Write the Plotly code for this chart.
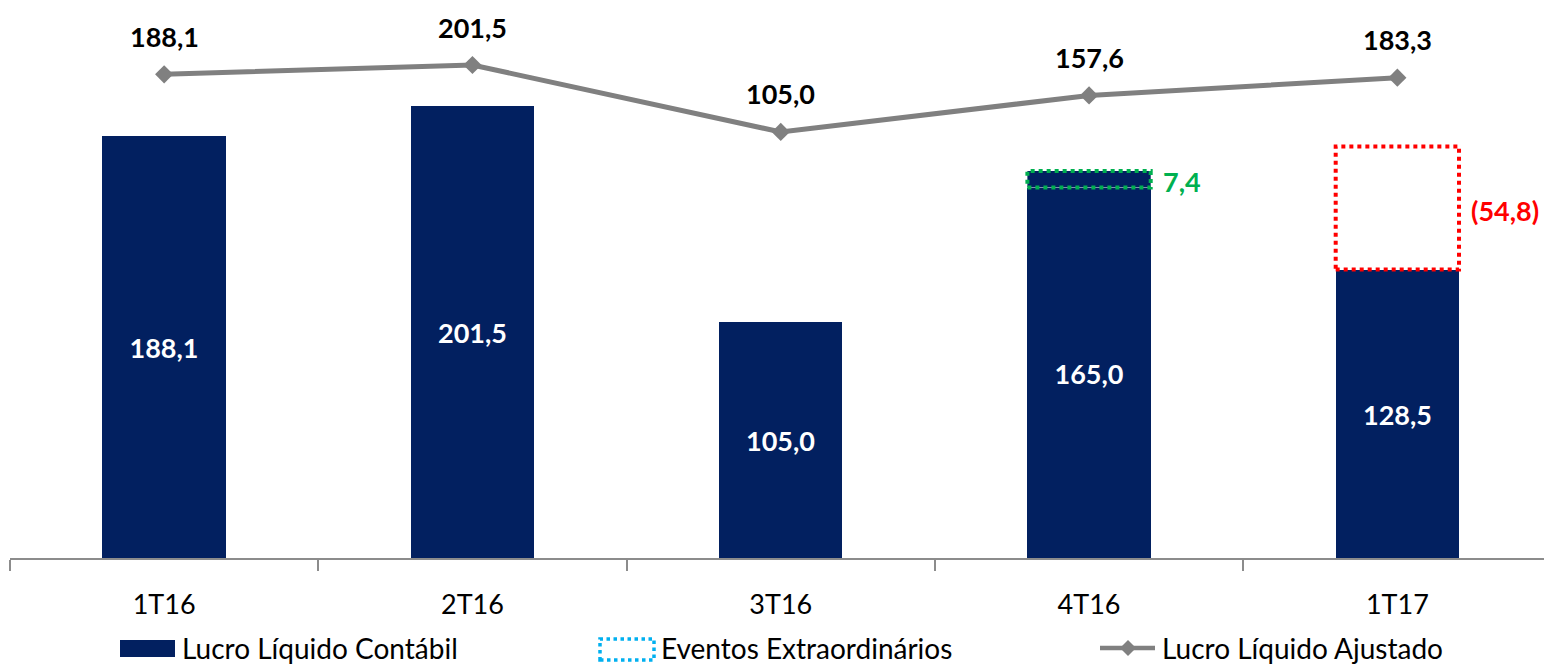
import plotly.graph_objects as go

# ---------------- data ----------------
categories = ["1T16", "2T16", "3T16", "4T16", "1T17"]
lucro_contabil = [188.1, 201.5, 105.0, 165.0, 128.5]
eventos_extra = [None, None, None, 7.4, -54.8]
lucro_ajustado = [188.1, 201.5, 105.0, 157.6, 183.3]
legend_names = ["Lucro Líquido Contábil", "Eventos Extraordinários", "Lucro Líquido Ajustado"]

# ---------------- style ----------------
W, H = 1544, 665
ML, MR, MT, MB = 10, 0, 0, 107
PW, PH = W - ML - MR, H - MT - MB
NAVY = "#022060"
GRAY = "#808080"
AXIS = "#8C8C8C"
GREEN = "#00B050"
RED = "#FF0000"
CYAN = "#00B0F0"
FONT = "Lato"
FS = 27
BAR_W = 0.4
CAT_PX = 308.3
BAR_SCALE = 2.245       # px per unit, primary axis
LINE_SCALE = 0.694      # px per unit, secondary axis
LINE_TOP_VAL = 201.5
LINE_TOP_PX = 65


def fmt(v):
    s = f"{abs(v):.1f}".replace(".", ",")
    return f"({s})" if v < 0 else s


x_idx = list(range(len(categories)))

fig = go.Figure()

fig.add_trace(go.Bar(
    x=x_idx, y=lucro_contabil, width=BAR_W,
    marker=dict(color=NAVY, line=dict(width=0)),
    text=[f"<b>{fmt(v)}</b>" for v in lucro_contabil],
    textposition="inside", insidetextanchor="middle", textangle=0,
    constraintext="none",
    textfont=dict(color="white", size=FS, family=FONT),
    showlegend=False, hoverinfo="skip",
))

annotations = []
for i, e in enumerate(eventos_extra):
    if e is None:
        continue
    y0 = lucro_contabil[i]
    y1 = y0 + abs(e)
    x0, x1 = i - BAR_W / 2, i + BAR_W / 2
    col = GREEN if e > 0 else RED
    fig.add_trace(go.Scatter(
        x=[x0, x1, x1, x0, x0], y=[y0, y0, y1, y1, y0],
        mode="lines", fill="toself",
        fillcolor=NAVY if e > 0 else "rgba(0,0,0,0)",
        line=dict(color=col, width=4, dash="dot"),
        showlegend=False, hoverinfo="skip",
    ))
    annotations.append(dict(
        x=x1, y=(y0 + y1) / 2, xref="x", yref="y",
        text=f"<b>{fmt(e)}</b>", showarrow=False,
        xanchor="left", yanchor="middle", xshift=10, yshift=-2,
        font=dict(color=col, size=FS, family=FONT),
    ))

fig.add_trace(go.Scatter(
    x=x_idx, y=lucro_ajustado, yaxis="y2", mode="lines+markers",
    line=dict(color=GRAY, width=5),
    marker=dict(symbol="diamond", size=14, color=GRAY),
    showlegend=False, hoverinfo="skip",
))
for i, v in enumerate(lucro_ajustado):
    annotations.append(dict(
        x=i, y=v, xref="x", yref="y2", text=f"<b>{fmt(v)}</b>",
        showarrow=False, yshift=38, yanchor="middle",
        font=dict(color="black", size=FS, family=FONT),
    ))

# ---------------- manual legend ----------------
def px_x(p):
    return (p - ML) / PW


def px_y(p):
    return (MT + PH - p) / PH


LEG_Y = 648
shapes = []
# item 1: filled navy square
shapes.append(dict(type="rect", xref="paper", yref="paper",
                   x0=px_x(120), x1=px_x(175), y0=px_y(657), y1=px_y(640),
                   fillcolor=NAVY, line=dict(width=0)))
# item 2: dotted cyan box
shapes.append(dict(type="rect", xref="paper", yref="paper",
                   x0=px_x(600), x1=px_x(654), y0=px_y(660), y1=px_y(639),
                   fillcolor="rgba(0,0,0,0)", line=dict(color=CYAN, width=3.5, dash="dot")))
# item 3: gray line with diamond
shapes.append(dict(type="line", xref="paper", yref="paper",
                   x0=px_x(1100), x1=px_x(1155), y0=px_y(LEG_Y), y1=px_y(LEG_Y),
                   line=dict(color=GRAY, width=4.5)))
shapes.append(dict(type="path", xref="paper", yref="paper",
                   xsizemode="pixel", ysizemode="pixel",
                   xanchor=px_x(1128), yanchor=px_y(LEG_Y),
                   path="M -8 0 L 0 8 L 8 0 L 0 -8 Z",
                   fillcolor=GRAY, line=dict(width=0)))

for name, xs in zip(legend_names, [180, 659, 1160]):
    annotations.append(dict(
        x=px_x(xs), y=px_y(LEG_Y), xref="paper", yref="paper",
        text=name, showarrow=False, xanchor="left", yanchor="middle",
        font=dict(color="black", size=28, family=FONT),
    ))

fig.update_layout(
    width=W, height=H,
    margin=dict(l=ML, r=MR, t=MT, b=MB, pad=0),
    plot_bgcolor="white", paper_bgcolor="white",
    bargap=0, showlegend=False,
    xaxis=dict(
        range=[-0.5, -0.5 + PW / CAT_PX],
        tickmode="array", tickvals=x_idx, ticktext=categories,
        ticks="", showline=True, linecolor=AXIS, linewidth=2,
        showgrid=False, zeroline=False,
        tickfont=dict(color="black", size=FS, family=FONT),
        ticklabelstandoff=22,
        minor=dict(tickmode="array", tickvals=[i - 0.5 for i in range(len(categories) + 1)],
                   ticks="outside", ticklen=11, tickwidth=2, tickcolor=AXIS, showgrid=False),
    ),
    yaxis=dict(range=[0, PH / BAR_SCALE], visible=False, showgrid=False, zeroline=False),
    yaxis2=dict(
        range=[LINE_TOP_VAL - (PH - LINE_TOP_PX) / LINE_SCALE, LINE_TOP_VAL + LINE_TOP_PX / LINE_SCALE],
        overlaying="y", visible=False, showgrid=False, zeroline=False,
    ),
    annotations=annotations,
    shapes=shapes,
)

fig.write_html("out.html", config={"displayModeBar": False},
               post_script="document.body.style.margin='0';document.body.style.overflow='hidden';")
